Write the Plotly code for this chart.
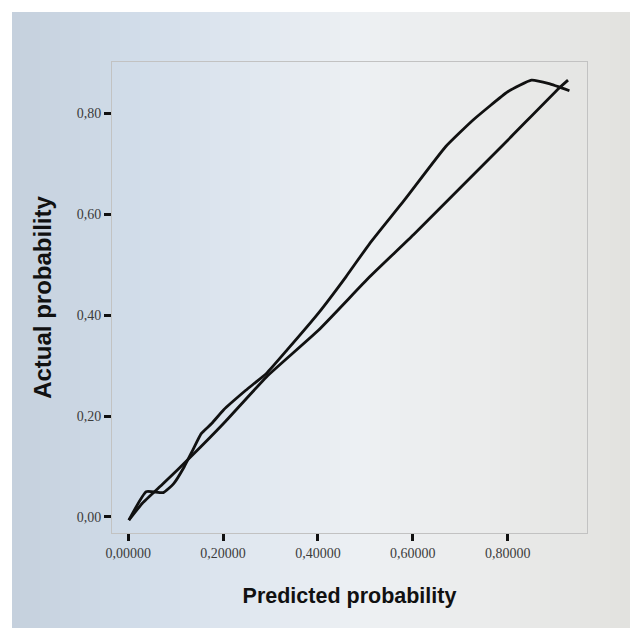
import plotly.graph_objects as go

# Calibration curve (bowed)
calib_x = [0.0015, 0.038, 0.074, 0.096, 0.118, 0.136, 0.154, 0.176, 0.201, 0.248, 0.292,
           0.335, 0.401, 0.459, 0.509, 0.582, 0.669, 0.727, 0.800, 0.850, 0.887, 0.930]
calib_y = [-0.0065, 0.050, 0.048, 0.066, 0.099, 0.132, 0.165, 0.185, 0.212, 0.251, 0.285,
           0.331, 0.404, 0.476, 0.542, 0.628, 0.734, 0.787, 0.843, 0.866, 0.859, 0.845]

# Near-diagonal reference curve
ref_x = [0.0015, 0.030, 0.074, 0.132, 0.201, 0.292, 0.401, 0.509, 0.604, 0.800, 0.908, 0.927]
ref_y = [-0.0065, 0.027, 0.066, 0.119, 0.185, 0.278, 0.370, 0.476, 0.562, 0.747, 0.850, 0.866]

x_ticks = [0.0, 0.2, 0.4, 0.6, 0.8]
y_ticks = [0.0, 0.2, 0.4, 0.6, 0.8]

W, H = 630, 628
ML, MR, MT, MB = 112, 43, 62, 95
PW, PH = W - ML - MR, H - MT - MB

def px2paper_x(px):
    return (px - ML) / PW

def py2paper_y(py):
    return (H - MB - py) / PH

# photographed-paper background: horizontal colour gradient (styling only)
stops = [(0, (195, 207, 220)), (150, (211, 222, 234)), (280, (228, 234, 241)),
         (360, (237, 240, 243)), (480, (235, 236, 236)), (630, (226, 226, 223))]

def bg_color(px):
    for (a, ca), (b, cb) in zip(stops[:-1], stops[1:]):
        if a <= px <= b:
            t = (px - a) / (b - a)
            c = [round(ca[i] + (cb[i] - ca[i]) * t) for i in range(3)]
            return "rgb(%d,%d,%d)" % tuple(c)
    return "rgb(226,226,223)"

shapes = []
step = 10
for px in range(0, W, step):
    shapes.append(dict(type="rect", xref="paper", yref="paper", layer="below",
                       x0=px2paper_x(px), x1=px2paper_x(px + step + 1),
                       y0=py2paper_y(H), y1=py2paper_y(0),
                       fillcolor=bg_color(px + step / 2), line=dict(width=0)))
# white photo borders on top and left
shapes.append(dict(type="rect", xref="paper", yref="paper", layer="below",
                   x0=px2paper_x(0), x1=px2paper_x(W), y0=py2paper_y(12), y1=py2paper_y(0),
                   fillcolor="#ffffff", line=dict(width=0)))
shapes.append(dict(type="rect", xref="paper", yref="paper", layer="below",
                   x0=px2paper_x(0), x1=px2paper_x(12), y0=py2paper_y(H), y1=py2paper_y(0),
                   fillcolor="#ffffff", line=dict(width=0)))

fig = go.Figure()
fig.add_trace(go.Scatter(x=ref_x, y=ref_y, mode="lines",
                         line=dict(color="#111111", width=2.8, shape="spline", smoothing=0.4),
                         showlegend=False))
fig.add_trace(go.Scatter(x=calib_x, y=calib_y, mode="lines",
                         line=dict(color="#111111", width=2.8, shape="spline", smoothing=0.4),
                         showlegend=False))

axis_common = dict(showgrid=False, zeroline=False, showline=True, linecolor="#c2c2c2",
                   linewidth=1, mirror=True, ticks="outside", ticklen=7, tickwidth=2.5,
                   tickcolor="#111111",
                   tickfont=dict(family="Liberation Serif", size=14, color="#3c3c3c"))

fig.update_layout(
    width=W, height=H,
    margin=dict(l=ML, r=MR, t=MT, b=MB),
    paper_bgcolor="#e6e9ed",
    plot_bgcolor="rgba(0,0,0,0)",
    separators=",.",
    shapes=shapes,
    xaxis=dict(range=[-0.034, 0.967], tickvals=x_ticks, tickformat=".5f",
               title=dict(text="<b>Predicted probability</b>", standoff=28,
                          font=dict(family="Liberation Sans", size=21.5, color="#111111")),
               **axis_common),
    yaxis=dict(range=[-0.032, 0.902], tickvals=y_ticks, tickformat=".2f",
               title=dict(text="<b>Actual probability</b>", standoff=18,
                          font=dict(family="Liberation Sans", size=24, color="#111111")),
               **axis_common),
)

fig.write_html("out.html", config={"displayModeBar": False},
               post_script="document.body.style.margin='0';document.body.style.overflow='hidden';")
